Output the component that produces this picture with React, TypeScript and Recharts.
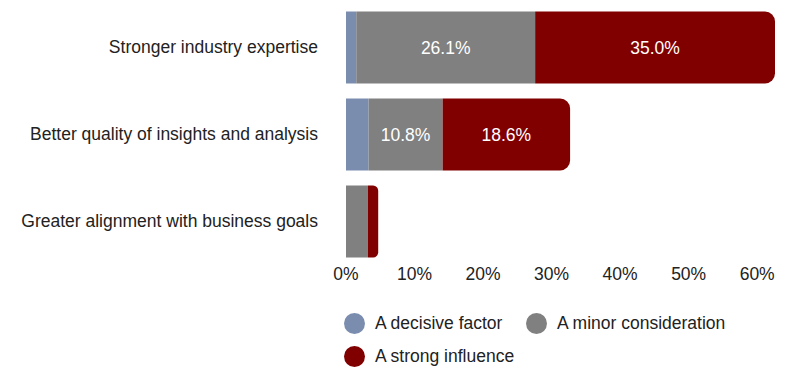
import { BarChart, Bar, XAxis, YAxis, LabelList } from "recharts";

const categories = [
  "Stronger industry expertise",
  "Better quality of insights and analysis",
  "Greater alignment with business goals",
];
const decisive = [1.5, 3.3, 0];
const minor = [26.1, 10.8, 3.2];
const strong = [35.0, 18.6, 1.5];
const xTicks = [0, 10, 20, 30, 40, 50, 60];

const series = [
  { key: "decisive", name: "A decisive factor", color: "#7A8DAE" },
  { key: "minor", name: "A minor consideration", color: "#808080" },
  { key: "strong", name: "A strong influence", color: "#800000" },
];

const data = categories.map((c, i) => ({
  name: c,
  decisive: decisive[i],
  minor: minor[i],
  strong: strong[i],
}));

const FONT = "'Liberation Sans', Arial, sans-serif";
const FS = 17.5;

const fmt = (v: any) => (typeof v === "number" && v > 5 ? `${v.toFixed(1)}%` : "");

export default function App() {
  return (
    <div style={{ position: "absolute", left: 0, top: 0, width: 800, height: 381, fontFamily: FONT }}>
      <BarChart
        width={800}
        height={381}
        data={data}
        layout="vertical"
        margin={{ top: 3.5, right: 25, bottom: 86.5, left: 0 }}
        barSize={72}
      >
        <XAxis
          type="number"
          domain={[0, "dataMax"]}
          ticks={xTicks}
          tickFormatter={(v) => `${v}%`}
          axisLine={false}
          tickLine={false}
          tickSize={0}
          tickMargin={3}
          height={30}
          tick={{ fontSize: FS, fill: "#222", fontFamily: FONT }}
        />
        <YAxis
          type="category"
          dataKey="name"
          width={346}
          axisLine={false}
          tickLine={false}
          tickSize={0}
          tickMargin={28}
          tick={{ fontSize: FS, fill: "#222", fontFamily: FONT }}
        />
        <Bar dataKey="decisive" stackId="a" fill={series[0].color} isAnimationActive={false} />
        <Bar dataKey="minor" stackId="a" fill={series[1].color} isAnimationActive={false}>
          <LabelList dataKey="minor" position="center" formatter={fmt} fill="#fff" fontSize={FS} fontFamily={FONT} />
        </Bar>
        <Bar dataKey="strong" stackId="a" fill={series[2].color} radius={[0, 10, 10, 0]} isAnimationActive={false}>
          <LabelList dataKey="strong" position="center" formatter={fmt} fill="#fff" fontSize={FS} fontFamily={FONT} />
        </Bar>
      </BarChart>
      <div
        style={{
          position: "absolute",
          left: 344,
          top: 312,
          width: 420,
          display: "flex",
          flexWrap: "wrap",
          rowGap: 11,
          fontSize: FS,
          color: "#222",
        }}
      >
        {series.map((s) => (
          <div key={s.key} style={{ display: "flex", alignItems: "center", height: 22, width: 182, whiteSpace: "nowrap" }}>
            <span
              style={{ width: 21, height: 21, borderRadius: "50%", background: s.color, display: "inline-block", marginRight: 10, flexShrink: 0 }}
            />
            <span>{s.name}</span>
          </div>
        ))}
      </div>
    </div>
  );
}
